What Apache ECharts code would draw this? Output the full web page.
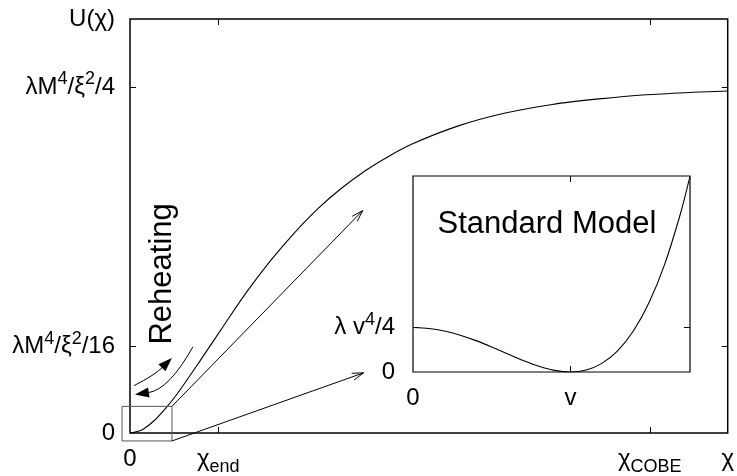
<!DOCTYPE html>
<html>
<head>
<meta charset="utf-8">
<script src="https://cdn.jsdelivr.net/npm/echarts@6/dist/echarts.min.js"></script>
<style>
html, body { margin: 0; padding: 0; background: #fff; }
#chart { width: 737px; height: 476px; }
</style>
</head>
<body>
<div id="chart"></div>
<script>
// main plot: U(chi) in units of lambda M^4 / (4 xi^2), chi in units of M
const chiValues = [0, 0.125, 0.25, 0.375, 0.5, 0.75, 1.0, 1.25, 1.5, 1.75, 2.0, 2.25, 2.5, 2.75, 3.0, 3.5, 4.0, 4.5, 5.0, 5.5, 6.0, 6.37];
const uValues = [0, 0.009, 0.034, 0.070, 0.112, 0.210, 0.311, 0.410, 0.499, 0.578, 0.648, 0.707, 0.757, 0.799, 0.835, 0.888, 0.925, 0.950, 0.966, 0.978, 0.985, 0.989];

// inset: Standard Model potential, phi in units of v, V in units of lambda v^4 / 4
const phiValues = [0, 0.1, 0.2, 0.3, 0.4, 0.5, 0.6, 0.7, 0.8, 0.9, 1.0, 1.1, 1.2, 1.3, 1.4, 1.5, 1.6, 1.7, 1.76];
const vValues = [1, 0.980, 0.922, 0.828, 0.706, 0.563, 0.410, 0.260, 0.130, 0.036, 0, 0.044, 0.194, 0.476, 0.922, 1.563, 2.434, 3.572, 4.40];

// tick positions and labels
const mainXTicks = [0.94, 5.54];
const mainXLabelVals = [0, 0.94, 5.54, 6.37];
const mainXLabelText = ['{n|0}', '{n|χ}{b|end}', '{n|χ}{b|COBE}', '{n|χ}'];
const mainYTicks = [0.25, 1];
const mainYLabelVals = [0, 0.25, 1, 1.197];
const mainYLabelText = ['{n|0}', '{n|λM}{s|4}{n|/ξ}{s|2}{n|/16}', '{n|λM}{s|4}{n|/ξ}{s|2}{n|/4}', '{n|U(χ)}'];
const insetXTicks = [1];
const insetXLabelVals = [0, 1];
const insetXLabelText = ['{n|0}', '{n|v}'];
const insetYTicks = [1];
const insetYLabelVals = [0, 1];
const insetYLabelText = ['{n|0}', '{n|λ v}{s|4}{n|/4}'];

const FONT = 'Liberation Sans';
const chart = echarts.init(document.getElementById('chart'));

function pick(vals, texts) {
    return function (v) {
        const i = vals.findIndex(function (x) { return Math.abs(x - v) < 1e-6; });
        return i < 0 ? '' : texts[i];
    };
}

const rich = {
    n: { fontFamily: FONT, fontSize: 24, lineHeight: 34, color: '#000' },
    s: { fontFamily: FONT, fontSize: 18, lineHeight: 22, verticalAlign: 'top', color: '#000' },
    b: { fontFamily: FONT, fontSize: 18, lineHeight: 20, verticalAlign: 'bottom', color: '#000' }
};

function axis(gridIndex, position, min, max, ticks, labelVals, labelText, margin) {
    return {
        type: 'value',
        gridIndex: gridIndex,
        position: position,
        min: min,
        max: max,
        axisLine: { show: false, onZero: false },
        splitLine: { show: false },
        axisTick: {
            show: true,
            inside: true,
            length: 6,
            customValues: ticks,
            lineStyle: { color: '#000', width: 1 }
        },
        axisLabel: labelVals ? {
            show: true,
            customValues: labelVals,
            formatter: pick(labelVals, labelText),
            margin: margin,
            rich: rich
        } : { show: false }
    };
}

chart.setOption({
    animation: false,
    backgroundColor: '#fff',
    grid: [
        { left: 130, top: 19, width: 599, height: 419, show: true, borderColor: '#000', borderWidth: 1.5, backgroundColor: 'transparent' },
        { left: 413, top: 176, width: 277, height: 196, show: true, borderColor: '#000', borderWidth: 1.2, backgroundColor: '#fff' }
    ],
    xAxis: [
        axis(0, 'bottom', 0, 6.37, mainXTicks, mainXLabelVals, mainXLabelText, 9),
        axis(0, 'top', 0, 6.37, mainXTicks, null),
        axis(1, 'bottom', 0, 1.76, insetXTicks, insetXLabelVals, insetXLabelText, 9),
        axis(1, 'top', 0, 1.76, insetXTicks, null)
    ],
    yAxis: [
        axis(0, 'left', 0, 1.197, mainYTicks, mainYLabelVals, mainYLabelText, 15),
        axis(0, 'right', 0, 1.197, mainYTicks, null),
        axis(1, 'left', 0, 4.41, insetYTicks, insetYLabelVals, insetYLabelText, 18),
        axis(1, 'right', 0, 4.41, insetYTicks, null)
    ],
    series: [
        {
            type: 'line',
            xAxisIndex: 0,
            yAxisIndex: 0,
            data: chiValues.map(function (x, i) { return [x, uValues[i]]; }),
            showSymbol: false,
            smooth: 0.3,
            lineStyle: { color: '#000', width: 1.1 },
            z: 5
        },
        {
            type: 'line',
            xAxisIndex: 2,
            yAxisIndex: 2,
            data: phiValues.map(function (x, i) { return [x, vValues[i]]; }),
            showSymbol: false,
            smooth: 0.3,
            lineStyle: { color: '#000', width: 1.1 },
            z: 5
        }
    ]
});

// annotations, anchored in main-plot data units
const zoomBox = [[-0.085, -0.023], [0.447, 0.077]];
const arrowToCurve = [[0.447, 0.077], [2.48, 0.643]];
const arrowToInset = [[0.447, -0.023], [2.49, 0.174]];
const reheatUp = [[0.043, 0.137], [0.255, 0.166], [0.447, 0.217]];
const reheatDown = [[0.670, 0.249], [0.415, 0.126], [0.053, 0.111]];
const reheatLabelAt = [0.351, 0.460];
const smLabelAt = [0.851, 3.33]; // inset units

function px(p) { return chart.convertToPixel({ gridIndex: 0 }, p); }

function openHead(from, to) {
    const a = Math.atan2(to[1] - from[1], to[0] - from[0]);
    const len = 12, w = 0.3;
    return [
        [to[0] - len * Math.cos(a - w), to[1] - len * Math.sin(a - w)],
        to,
        [to[0] - len * Math.cos(a + w), to[1] - len * Math.sin(a + w)]
    ];
}

function filledHead(ctrl, tip) {
    const a = Math.atan2(tip[1] - ctrl[1], tip[0] - ctrl[0]);
    const len = 14, hw = 5;
    const bx = tip[0] - len * Math.cos(a), by = tip[1] - len * Math.sin(a);
    return {
        base: [bx, by],
        pts: [tip, [bx + hw * Math.sin(a), by - hw * Math.cos(a)], [bx - hw * Math.sin(a), by + hw * Math.cos(a)]]
    };
}

const graphic = [];
const b0 = px(zoomBox[0]), b1 = px(zoomBox[1]);
graphic.push({
    type: 'rect',
    shape: { x: b0[0], y: b1[1], width: b1[0] - b0[0], height: b0[1] - b1[1] },
    style: { fill: 'none', stroke: '#555', lineWidth: 1 },
    z: 10
});

[arrowToCurve, arrowToInset].forEach(function (ar) {
    const f = px(ar[0]), t = px(ar[1]);
    graphic.push({ type: 'line', shape: { x1: f[0], y1: f[1], x2: t[0], y2: t[1] }, style: { stroke: '#000', lineWidth: 1 }, z: 10 });
    graphic.push({ type: 'polyline', shape: { points: openHead(f, t) }, style: { stroke: '#000', lineWidth: 1, fill: 'none' }, z: 10 });
});

[reheatUp, reheatDown].forEach(function (arc) {
    const s = px(arc[0]), c = px(arc[1]), e = px(arc[2]);
    const head = filledHead(c, e);
    graphic.push({
        type: 'bezierCurve',
        shape: { x1: s[0], y1: s[1], cpx1: c[0], cpy1: c[1], x2: head.base[0], y2: head.base[1] },
        style: { stroke: '#000', lineWidth: 1, fill: 'none' },
        z: 10
    });
    graphic.push({ type: 'polygon', shape: { points: head.pts }, style: { fill: '#000' }, z: 10 });
});

const rl = px(reheatLabelAt);
graphic.push({
    type: 'text',
    x: rl[0], y: rl[1],
    rotation: Math.PI / 2,
    style: { text: 'Reheating', fontFamily: FONT, fontSize: 31, fill: '#000', align: 'center', verticalAlign: 'middle' },
    z: 10
});

const sl = chart.convertToPixel({ gridIndex: 1 }, smLabelAt);
graphic.push({
    type: 'text',
    x: sl[0], y: sl[1],
    style: { text: 'Standard Model', fontFamily: FONT, fontSize: 31, fill: '#000', align: 'center', verticalAlign: 'middle' },
    z: 10
});

chart.setOption({ graphic: graphic });
</script>
</body>
</html>
